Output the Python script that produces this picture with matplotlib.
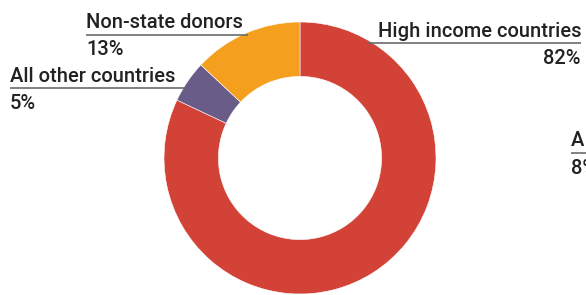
import matplotlib.pyplot as plt

# data
labels = ["High income countries", "All other countries", "Non-state donors"]
shares = [82, 5, 13]
colors = ["#D34236", "#6A5C88", "#F59F1E"]

plt.rcParams['font.family'] = ['Roboto', 'DejaVu Sans']

W, H = 586, 295
fig = plt.figure(figsize=(W / 100, H / 100), dpi=100)
ax = fig.add_axes([0, 0, 1, 1])
ax.set_xlim(0, W)
ax.set_ylim(0, H)
ax.set_aspect('equal')
ax.axis('off')

# donut, clockwise from the top
ax.pie(shares, colors=colors, startangle=90, counterclock=False,
       center=(300, H - 158), radius=136,
       wedgeprops=dict(width=136 * 0.4, edgecolor='white', linewidth=0.4))
ax.set_xlim(0, W)
ax.set_ylim(0, H)

txt = "#222222"
rule = "#6b6b6b"
fs = 14.5

def label(name, pct, x0, x1, y_name, y_line, y_pct, ha):
    xt = x0 if ha == 'left' else x1
    ax.text(xt, H - y_name, name, ha=ha, va='baseline', fontsize=fs,
            color=txt, fontweight='medium')
    ax.plot([x0, x1], [H - y_line, H - y_line], color=rule, lw=1.2,
            solid_capstyle='butt', clip_on=False)
    ax.text(xt, H - y_pct, pct, ha=ha, va='baseline', fontsize=fs,
            color=txt, fontweight='medium')

label(labels[2], f"{shares[2]}%", 86, 248, 28, 35, 55, 'left')
label(labels[1], f"{shares[1]}%", 10, 185, 82, 88, 109, 'left')
label(labels[0], f"{shares[0]}%", 368, 581, 37, 43, 64, 'right')

# cut-off label of the next chart at the right edge
label("A", "8%", 571, 600, 146, 153, 174, 'left')

fig.savefig("out.png", dpi=100)
